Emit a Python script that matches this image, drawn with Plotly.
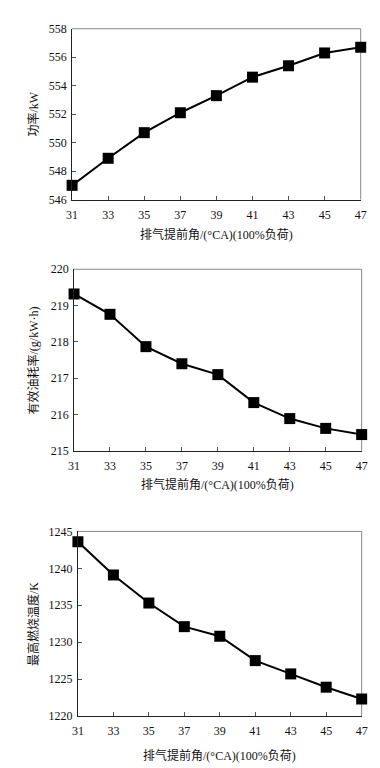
import plotly.graph_objects as go

x_vals = [31, 33, 35, 37, 39, 41, 43, 45, 47]
power_kw = [547.0, 548.9, 550.7, 552.1, 553.3, 554.6, 555.4, 556.3, 556.7]
bsfc = [219.32, 218.76, 217.87, 217.40, 217.10, 216.33, 215.89, 215.62, 215.45]
max_temp = [1243.6, 1239.1, 1235.3, 1232.1, 1230.8, 1227.5, 1225.7, 1223.9, 1222.3]

x_title = "排气提前角/(°CA)(100%负荷)"
y_titles = ["功率/kW", "有效油耗率/(g/kW·h)", "最高燃烧温度/K"]
y_ranges = [[546, 558], [215, 220], [1220, 1245]]
y_dtick = [2, 1, 5]

W, H = 380, 768
# plot boxes in pixels: (left, right, top, bottom)
boxes = [(60, 358, 14, 188), (62, 359, 259, 444), (66, 359, 526, 714)]
xtitle_y = [224, 478, 754]
ytitle_x = [20, 20, 20]

series = [power_kw, bsfc, max_temp]
fig = go.Figure()
num_font = dict(family="Liberation Serif, Times New Roman, serif", size=12, color="#111")
cjk_font = dict(family="Liberation Serif, Noto Sans CJK SC, serif", size=12, color="#111")

for i, (ys, box) in enumerate(zip(series, boxes)):
    l, r, t, b = box
    xa = "x" if i == 0 else f"x{i+1}"
    ya = "y" if i == 0 else f"y{i+1}"
    fig.add_trace(go.Scatter(
        x=x_vals, y=ys, mode="lines+markers",
        line=dict(color="black", width=2),
        marker=dict(symbol="square", size=11, color="black"),
        xaxis=xa, yaxis=ya, showlegend=False, cliponaxis=False,
    ))
    xkey = "xaxis" if i == 0 else f"xaxis{i+1}"
    ykey = "yaxis" if i == 0 else f"yaxis{i+1}"
    fig.update_layout(**{
        xkey: dict(domain=[l / W, r / W], anchor=ya, range=[31, 47],
                   tickmode="array", tickvals=x_vals, ticks="inside", ticklen=4,
                   tickcolor="#555",
                   showgrid=False, zeroline=False, showline=True, linecolor="#222",
                   linewidth=1, mirror=False, tickfont=num_font, ticklabelstandoff=4),
        ykey: dict(domain=[1 - b / H, 1 - t / H], anchor=xa, range=y_ranges[i],
                   dtick=y_dtick[i], ticks="inside", ticklen=4, tickcolor="#555",
                   showgrid=False, zeroline=False, showline=True, linecolor="#222",
                   linewidth=1, mirror=False, tickfont=num_font, ticklabelstandoff=2),
    })
    # lighter top and right frame lines
    fig.add_shape(type="line", xref="paper", yref="paper",
                  x0=l / W, x1=r / W, y0=1 - t / H, y1=1 - t / H,
                  line=dict(color="#888", width=1), layer="below")
    fig.add_shape(type="line", xref="paper", yref="paper",
                  x0=r / W, x1=r / W, y0=1 - b / H, y1=1 - t / H,
                  line=dict(color="#888", width=1), layer="below")
    fig.add_annotation(text=x_title, xref="paper", yref="paper",
                       x=(l + r) / 2 / W, y=1 - xtitle_y[i] / H,
                       showarrow=False, font=cjk_font, xanchor="center", yanchor="middle")
    fig.add_annotation(text=y_titles[i], xref="paper", yref="paper",
                       x=ytitle_x[i] / W, y=1 - (t + b) / 2 / H, textangle=-90,
                       showarrow=False, font=cjk_font, xanchor="center", yanchor="middle")

fig.update_layout(width=W, height=H, margin=dict(l=0, r=0, t=0, b=0),
                  paper_bgcolor="white", plot_bgcolor="white")
fig.write_html("out.html")
